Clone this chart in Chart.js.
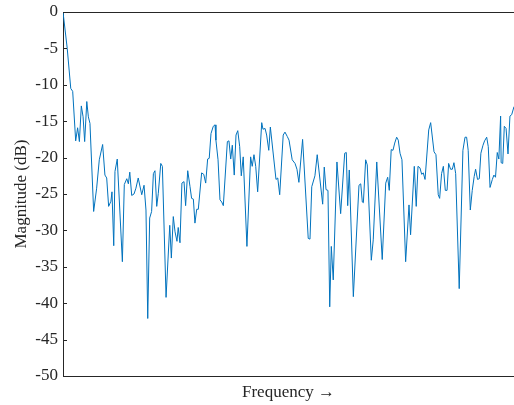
<!DOCTYPE html>
<html>
<head>
<meta charset="utf-8">
<script src="https://cdn.jsdelivr.net/npm/chart.js@4/dist/chart.umd.min.js"></script>
<style>
  html, body { margin: 0; padding: 0; background: #fff; }
  #wrap { width: 514px; height: 405px; position: relative; }
</style>
</head>
<body>
<div id="wrap"><canvas id="chart-response"></canvas></div>
<script>
// Frequency response magnitude
const freqBins = [
    0, 2.4, 4.4, 5.5, 7.2, 8.3, 9.3, 10.4, 11.4, 12.3,
    13.5, 14.4, 15.3, 17.4, 19.1, 20.6, 22.5, 23.8, 24.8, 25.9,
    27.2, 27.8, 28.8, 29.5, 30.8, 33.7, 34.8, 36.2, 37.1, 37.9,
    39.0, 40.3, 41.4, 42.7, 44.7, 46.0, 47.1, 48.1, 49.2, 50.3,
    51.3, 52.2, 53.2, 54.1, 55.5, 56.4, 58.5, 60.6, 61.5, 62.6,
    63.6, 64.7, 65.4, 66.4, 67.5, 68.7, 69.6, 70.8, 72.1, 73.0,
    74.0, 74.9, 75.9, 76.8, 78.7, 79.9, 81.0, 82.1, 83.0, 84.0,
    85.3, 86.3, 86.8, 88.0, 89.1, 90.1, 91.0, 93.3, 94.2, 95.2,
    96.1, 97.2, 98.2, 99.2, 100.3, 101.2, 102.3, 104.4, 106.5, 107.4,
    108.4, 109.4, 110.5, 112.8, 113.5, 114.7, 115.6, 116.8, 117.7, 120.9,
    121.9, 123.0, 125.0, 126.0, 127.3, 128.3, 130.1, 131.7, 132.8, 133.9,
    136.0, 139.2, 140.2, 141.2, 143.0, 144.3, 147.4, 148.3, 149.3, 150.4,
    151.4, 152.3, 153.4, 155.5, 157.6, 159.9, 160.8, 161.6, 162.5, 164.8,
    168.0, 169.0, 169.9, 170.5, 171.8, 172.7, 175.0, 176.1, 178.1, 181.2,
    183.2, 184.3, 185.2, 186.3, 187.3, 188.3, 189.4, 190.3, 191.3, 192.4,
    194.5, 196.4, 197.3, 199.4, 200.5, 201.5, 202.6, 203.6, 204.5, 205.5,
    207.6, 208.7, 210.6, 211.7, 213.0, 213.8, 214.9, 215.9, 217.0, 218.0,
    218.9, 220.0, 221.0, 221.9, 222.9, 224.9, 227.0, 228.2, 229.1, 230.0,
    231.2, 232.3, 233.4, 234.2, 235.3, 236.3, 237.2, 238.4, 239.3, 240.5,
    241.4, 242.4, 243.7, 244.6, 245.5, 246.5, 247.4, 248.4, 248.7, 249.6,
    250.5, 251.5, 252.6, 253.7, 254.7, 256
];
const magnitudeDb = [
    0, -5.0, -10.5, -10.9, -17.7, -15.9, -17.8, -12.9, -14.4, -17.8,
    -12.3, -14.4, -15.3, -27.4, -24.2, -20.3, -18.2, -22.4, -22.8, -26.7,
    -26.0, -24.7, -32.1, -21.9, -20.2, -34.3, -23.7, -22.9, -23.6, -22.0,
    -25.2, -25.0, -24.2, -22.8, -25.1, -23.8, -27.2, -42.1, -28.3, -27.4,
    -22.2, -21.8, -26.7, -24.9, -20.8, -21.2, -39.2, -29.3, -33.8, -28.1,
    -30.2, -31.5, -29.6, -31.7, -23.5, -23.3, -26.6, -21.8, -24.0, -25.6,
    -25.7, -29.0, -27.1, -27.1, -22.1, -22.3, -23.5, -20.2, -20.1, -16.7,
    -15.7, -15.5, -17.6, -20.3, -25.8, -26.1, -26.6, -17.8, -17.7, -20.2,
    -18.3, -22.4, -16.9, -16.3, -18.5, -22.5, -19.9, -32.2, -19.9, -21.2,
    -19.6, -21.2, -24.7, -15.2, -16.1, -16.0, -16.9, -19.0, -15.8, -23.0,
    -22.8, -25.1, -16.9, -16.5, -17.1, -17.6, -20.3, -20.8, -21.6, -23.4,
    -17.5, -31.1, -31.2, -24.0, -22.5, -19.6, -26.4, -21.3, -24.4, -24.5,
    -40.5, -32.2, -36.8, -20.6, -27.7, -19.4, -19.3, -26.6, -21.7, -39.1,
    -23.8, -23.6, -26.1, -26.2, -20.3, -21.0, -34.1, -31.3, -20.6, -34.0,
    -23.5, -22.7, -24.5, -18.9, -19.0, -18.0, -17.2, -17.6, -19.4, -20.3,
    -34.3, -26.5, -30.6, -21.2, -26.7, -21.2, -21.4, -22.3, -22.1, -23.0,
    -16.2, -15.2, -19.2, -19.6, -25.1, -25.6, -22.2, -21.2, -24.5, -24.5,
    -20.8, -21.6, -21.6, -20.7, -22.2, -38.0, -19.0, -17.2, -17.2, -19.0,
    -27.2, -24.5, -22.6, -21.6, -23.0, -22.9, -19.4, -18.3, -17.7, -17.2,
    -18.5, -24.1, -23.0, -22.4, -22.7, -19.3, -20.2, -14.3, -20.7, -20.8,
    -15.7, -16.0, -19.5, -14.3, -14.1, -13.0
];
const yTicks = [0, -5, -10, -15, -20, -25, -30, -35, -40, -45, -50];

const AXIS_COLOR = '#262626';
const SERIF = "'Liberation Serif', 'DejaVu Serif', serif";

// top frame line and inward tick marks on the left axis
const framePlugin = {
    id: 'frame',
    afterDatasetsDraw(chart) {
        const { ctx, chartArea: a, scales } = chart;
        ctx.save();
        ctx.strokeStyle = AXIS_COLOR;
        ctx.lineWidth = 1;
        ctx.beginPath();
        ctx.moveTo(a.left, Math.round(a.top) + 0.5);
        ctx.lineTo(a.right, Math.round(a.top) + 0.5);
        yTicks.forEach(v => {
            const py = Math.round(scales.y.getPixelForValue(v)) + 0.5;
            ctx.moveTo(a.left, py);
            ctx.lineTo(a.left + 4, py);
        });
        ctx.stroke();
        ctx.restore();
    }
};

document.addEventListener('DOMContentLoaded', () => {
    const ctx = document.getElementById('chart-response');
    new Chart(ctx, {
        type: 'line',
        data: {
            datasets: [{
                data: freqBins.map((f, i) => ({ x: f, y: magnitudeDb[i] })),
                borderColor: '#0072BD',
                borderWidth: 1,
                pointRadius: 0,
                tension: 0,
                fill: false
            }]
        },
        options: {
            responsive: true,
            maintainAspectRatio: false,
            animation: false,
            layout: {
                padding: { top: 12, right: 0, left: 0, bottom: 0 }
            },
            plugins: {
                legend: { display: false },
                tooltip: { enabled: false }
            },
            scales: {
                x: {
                    type: 'linear',
                    min: 0,
                    max: 256,
                    ticks: { display: false },
                    grid: { display: false },
                    border: { display: true, color: AXIS_COLOR, width: 1 },
                    title: {
                        display: true,
                        text: 'Frequency \u2192',
                        color: AXIS_COLOR,
                        font: { family: SERIF, size: 17 },
                        padding: { top: 0, bottom: 2 }
                    },
                    afterFit(scale) {
                        scale.height = 29;
                        scale.paddingLeft = 0;
                        scale.paddingRight = 0;
                    }
                },
                y: {
                    min: -50,
                    max: 0,
                    afterBuildTicks(scale) {
                        scale.ticks = yTicks.map(v => ({ value: v }));
                    },
                    ticks: {
                        color: AXIS_COLOR,
                        padding: 5,
                        font: { family: SERIF, size: 17 }
                    },
                    grid: { display: false, drawTicks: false },
                    border: { display: true, color: AXIS_COLOR, width: 1 },
                    title: {
                        display: true,
                        text: 'Magnitude (dB)',
                        color: AXIS_COLOR,
                        font: { family: SERIF, size: 17 },
                        padding: { top: 11, bottom: 0 }
                    },
                    afterFit(scale) {
                        scale.width = 63;
                        scale.paddingTop = 0;
                        scale.paddingBottom = 0;
                    }
                }
            }
        },
        plugins: [framePlugin]
    });
});
</script>
</body>
</html>
